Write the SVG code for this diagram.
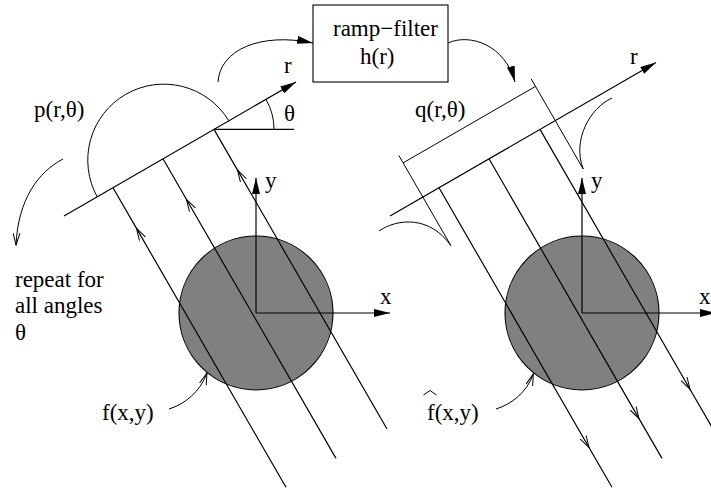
<svg xmlns="http://www.w3.org/2000/svg" width="711" height="488" viewBox="0 0 711 488">
<style>
 .ln{stroke:#000;stroke-width:1.2;fill:none}
 .th{stroke:#000;stroke-width:1;fill:none}
 .t{font-family:"Liberation Serif","Times New Roman",serif;font-size:23px;fill:#000}
 .obj{fill:#808080;stroke:#000;stroke-width:1.1}
 .axis{marker-end:url(#fa)}
 .rayL,.rayR{marker-mid:url(#oa)}
</style>
<defs>
 <marker id="fa" viewBox="0 0 16 8" refX="16" refY="4" markerWidth="16" markerHeight="8" markerUnits="userSpaceOnUse" orient="auto"><path d="M0,0 L16,4 L0,8 z" fill="#000"/></marker>
 <marker id="oa" viewBox="0 0 13 8" refX="12" refY="4" markerWidth="13" markerHeight="8" markerUnits="userSpaceOnUse" orient="auto"><path d="M0,0.5 L12,4 L0,7.5" fill="none" stroke="#000" stroke-width="1"/></marker>
</defs>
<rect width="711" height="488" fill="#fff"/>

<g id="left-object">
 <circle class="obj" cx="256" cy="313" r="77"/>
 <path class="ln axis" d="M256,313 L390,313"/>
 <path class="ln axis" d="M256,313 L256,178"/>
 <text class="t" x="380" y="304">x</text>
 <text class="t" x="265" y="188">y</text>
</g>

<g id="left-projection">
 <path class="ln axis" d="M64,216 L296,82"/>
 <text class="t" x="284" y="73">r</text>
 <path class="ln" d="M214,129.4 L294,129.4"/>
 <path class="th" d="M274,129.4 A60,60 0 0 0 266,99.4"/>
 <text class="t" x="284" y="121">θ</text>
 <path class="th" d="M97.2,196.8 A76,76 0 0 1 228.8,120.8"/>
 <text class="t" x="34" y="117">p(r,θ)</text>
 <path class="ln rayL" d="M286,487.3 L136.5,228.4 L113,187.7"/>
 <path class="ln rayL" d="M336,458.4 L186.5,199.5 L163,158.8"/>
 <path class="ln rayL" d="M387,429 L237.5,170.1 L214,129.4"/>
</g>

<g id="repeat-label">
 <text class="t" x="15" y="287">repeat for</text>
 <text class="t" x="15" y="313">all angles</text>
 <text class="t" x="15" y="340">θ</text>
</g>

<g id="f-label">
 <text class="t" x="102" y="420">f(x,y)</text>
</g>

<g id="ramp-filter">
 <rect x="313" y="5" width="135" height="77" fill="#fff" stroke="#000" stroke-width="1.1"/>
 <text class="t" x="333" y="36">ramp−filter</text>
 <text class="t" x="360" y="64">h(r)</text>
</g>

<g id="right-object">
 <circle class="obj" cx="582" cy="313" r="77"/>
 <path class="ln axis" d="M582,313 L716,313"/>
 <path class="ln axis" d="M582,313 L582,178"/>
 <text class="t" x="699" y="304">x</text>
 <text class="t" x="591" y="188">y</text>
</g>

<g id="right-backprojection">
 <path class="ln axis" d="M390,216 L656,62.4"/>
 <text class="t" x="630" y="64">r</text>
 <path class="th" d="M398.8,155.4 L450.8,245.5"/>
 <path class="th" d="M531.2,78.9 L583.2,169"/>
 <path class="th" d="M403.1,162.9 L535.5,86.4"/>
 <path class="th" d="M379,231 C398,218 430,216 450.8,245.5"/>
 <path class="th" d="M612,98 C590,108 572,140 583.2,169"/>
 <text class="t" x="415" y="117">q(r,θ)</text>
 <path class="ln rayR" d="M439,187.7 L589,447.5 L612,487.3"/>
 <path class="ln rayR" d="M489,158.8 L639,418.6 L662,458.4"/>
 <path class="ln rayR" d="M540,129.4 L690,389.2 L713,429"/>
</g>

<g id="fhat-label">
 <polyline class="th" points="423.5,395 430,390.5 436.5,395"/>
 <text class="t" x="427" y="420">f(x,y)</text>
</g>

<g id="connectors">
 <path class="th" marker-end="url(#fa)" d="M218,82 C220,50 260,32 313,43"/>
 <path class="th" marker-end="url(#fa)" d="M448,43 C470,33 505,45 515,82"/>
 <path class="th" marker-end="url(#oa)" d="M63,159 C38,172 18,200 16,245"/>
 <path class="th" marker-end="url(#oa)" d="M169,409 C185,404 200,392 207,373"/>
 <path class="th" marker-end="url(#oa)" d="M496,409 C512,404 527,392 533.3,374"/>
</g>
</svg>
